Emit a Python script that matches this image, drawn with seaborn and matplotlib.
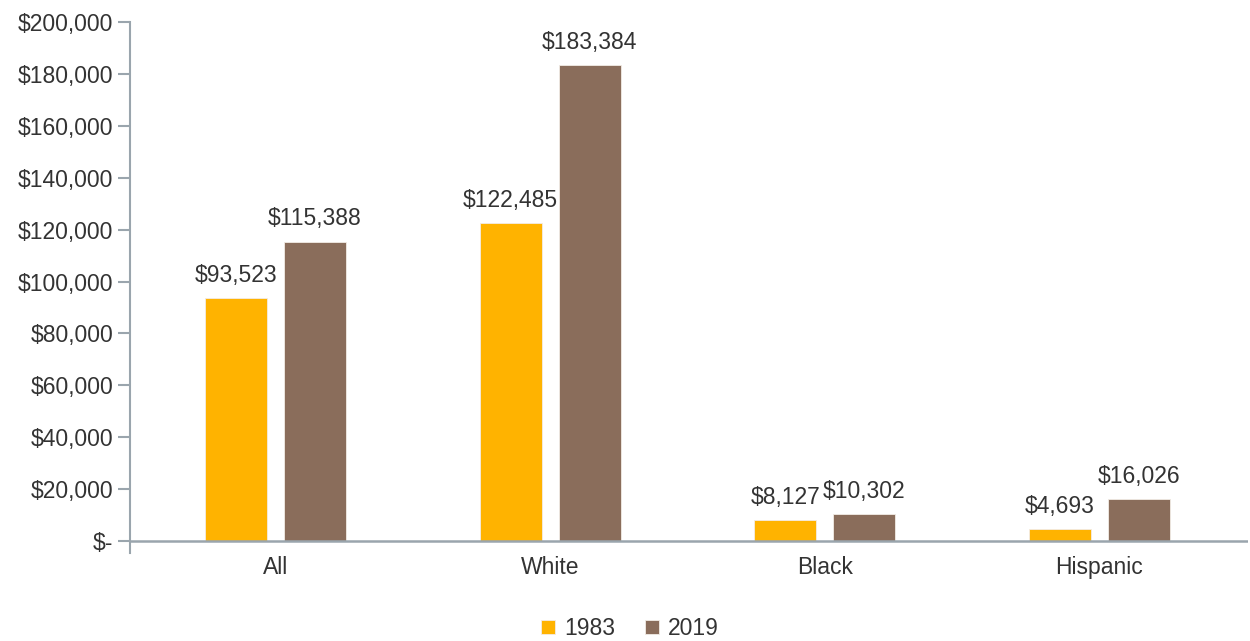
import matplotlib
matplotlib.use("Agg")
import matplotlib.pyplot as plt
import seaborn as sns
import pandas as pd

# Median family wealth by race/ethnicity
categories = ["All", "White", "Black", "Hispanic"]
years = ["1983", "2019"]
wealth_1983 = [93523, 122485, 8127, 4693]
wealth_2019 = [115388, 183384, 10302, 16026]
y_ticks = [0, 20000, 40000, 60000, 80000, 100000, 120000, 140000, 160000, 180000, 200000]

df = pd.DataFrame({
    "group": categories * 2,
    "year": [years[0]] * 4 + [years[1]] * 4,
    "wealth": wealth_1983 + wealth_2019,
})

sns.set_theme(style="white")
plt.rcParams["font.family"] = ["Liberation Sans", "DejaVu Sans"]

text_color = "#333333"
axis_color = "#9aa5ad"
palette = {"1983": "#FFB300", "2019": "#8A6D5B"}
fs = 16.5

fig = plt.figure(figsize=(12.5, 6.41), dpi=100)
ax = fig.add_axes([0.104, 0.1373, 0.894, 0.8284])

sns.barplot(data=df, x="group", y="wealth", hue="year", hue_order=years,
            order=categories, palette=palette, saturation=1, width=0.576, gap=0.216,
            edgecolor="#f2ece6", linewidth=0.6, ax=ax, legend=True)

for cont in ax.containers:
    ax.bar_label(cont, labels=[f"${v:,.0f}" for v in cont.datavalues],
                 padding=8, fontsize=fs, color=text_color)

ax.set_xlim(-0.53, 3.54)
ax.set_ylim(-4600, 200000)
ax.set_yticks(y_ticks)
ax.set_yticklabels(["$-"] + [f"${v:,.0f}" for v in y_ticks[1:]])
ax.set_xlabel("")
ax.set_ylabel("")

for side in ["top", "right", "bottom"]:
    ax.spines[side].set_visible(False)
ax.spines["left"].set_color(axis_color)
ax.spines["left"].set_linewidth(1.5)
ax.axhline(0, color=axis_color, linewidth=1.8, zorder=3)

ax.tick_params(axis="y", which="both", left=True, length=9, width=1.5,
               color=axis_color, labelsize=fs, labelcolor=text_color, pad=3)
ax.tick_params(axis="x", bottom=False, labelsize=fs, labelcolor=text_color, pad=-4)

handles, labels = ax.get_legend_handles_labels()
ax.legend(handles, labels, loc="center", bbox_to_anchor=(0.4475, -0.142),
          ncol=2, frameon=False, fontsize=fs, handlelength=0.6, handleheight=0.6,
          handletextpad=0.4, columnspacing=1.3, labelcolor=text_color)

fig.savefig("out.png", dpi=100)
